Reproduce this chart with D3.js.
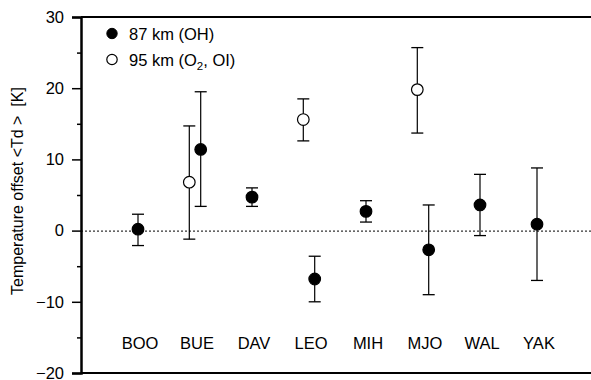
<!DOCTYPE html>
<html>
<head>
<meta charset="utf-8">
<script src="https://cdn.jsdelivr.net/npm/d3@7"></script>
<style>
  body { margin: 0; background: #fff; }
  svg text { font-family: "Liberation Sans", Arial, sans-serif; fill: #000; }
</style>
</head>
<body>
<script>
// stations along the x axis
var stations = ["BOO", "BUE", "DAV", "LEO", "MIH", "MJO", "WAL", "YAK"];

// 87 km (OH), filled circles
var ohValue = [0.2, 11.4, 4.7, -6.8, 2.7, -2.7, 3.6, 0.9];
var ohHigh  = [2.3, 19.5, 6.0, -3.6, 4.2, 3.6, 7.9, 8.8];
var ohLow   = [-2.1, 3.4, 3.4, -10.0, 1.2, -9.0, -0.7, -7.0];

// 95 km (O2, OI), open circles
var o2Stations = ["BUE", "LEO", "MJO"];
var o2Value = [6.8, 15.6, 19.8];
var o2High  = [14.7, 18.5, 25.7];
var o2Low   = [-1.2, 12.6, 13.7];

var majorTicks = [-20, -10, 0, 10, 20, 30];
var minorTicks = [-15, -5, 5, 15, 25];

var width = 591, height = 380;
var fs = 16.5;

var svg = d3.select("body").append("svg")
    .attr("width", width)
    .attr("height", height);

var x = d3.scaleLinear().domain([0, 9]).range([81, 594]);
var y = d3.scaleLinear().domain([-20, 30]).range([373, 17]);

// stations with both series get pulled apart a bit
function xPos(name, series) {
    var i = stations.indexOf(name) + 1;
    if (o2Stations.indexOf(name) < 0) return x(i);
    return x(i + (series === "o2" ? -0.1 : 0.1));
}

// zero line
svg.append("line")
    .attr("x1", x(0)).attr("x2", width)
    .attr("y1", y(0) + 0.5).attr("y2", y(0) + 0.5)
    .attr("stroke", "#000")
    .attr("stroke-width", 1)
    .attr("stroke-dasharray", "2,2");

// frame top & bottom
svg.append("line")
    .attr("x1", x(0)).attr("x2", width)
    .attr("y1", y(30)).attr("y2", y(30))
    .attr("stroke", "#000").attr("stroke-width", 2);
svg.append("line")
    .attr("x1", x(0)).attr("x2", width)
    .attr("y1", y(-20)).attr("y2", y(-20))
    .attr("stroke", "#000").attr("stroke-width", 2);

// left axis
var yAxis = svg.append("g")
    .attr("transform", "translate(" + x(0) + ",0)")
    .call(d3.axisLeft(y).tickValues(majorTicks).tickSize(9).tickPadding(8));
yAxis.select(".domain").attr("stroke-width", 2.5);
yAxis.selectAll(".tick line").attr("stroke-width", 1.5);
yAxis.selectAll("text")
    .attr("font-family", "Liberation Sans, Arial, sans-serif")
    .attr("font-size", fs);

svg.append("g")
    .attr("transform", "translate(" + x(0) + ",0)")
    .call(d3.axisLeft(y).tickValues(minorTicks).tickSize(4).tickFormat(""))
    .call(function(g) { g.select(".domain").remove(); })
    .selectAll(".tick line").attr("stroke-width", 1.5);

// y label
svg.append("text")
    .attr("transform", "translate(23,191) rotate(-90)")
    .attr("text-anchor", "middle")
    .attr("font-size", 16)
    .style("white-space", "pre")
    .text("Temperature offset <Td >  [K]");

// station labels
svg.append("g").selectAll("text")
    .data(stations)
    .enter().append("text")
      .attr("x", function(d, i) { return x(i + 1) + 2; })
      .attr("y", y(-16.6))
      .attr("text-anchor", "middle")
      .attr("font-size", fs)
      .text(function(d) { return d; });

// error bars + points
function drawSeries(names, vals, hi, lo, series, filled, r) {
    var g = svg.append("g");
    var capW = 6;
    names.forEach(function(name, i) {
        var cx = xPos(name, series);
        g.append("line")
            .attr("x1", cx).attr("x2", cx)
            .attr("y1", y(hi[i])).attr("y2", y(lo[i]))
            .attr("stroke", "#000").attr("stroke-width", 1.2);
        [hi[i], lo[i]].forEach(function(v) {
            g.append("line")
                .attr("x1", cx - capW).attr("x2", cx + capW)
                .attr("y1", y(v)).attr("y2", y(v))
                .attr("stroke", "#000").attr("stroke-width", 1.3);
        });
        g.append("circle")
            .attr("cx", cx).attr("cy", y(vals[i]))
            .attr("r", r)
            .attr("fill", filled ? "#000" : "#fff")
            .attr("stroke", "#000")
            .attr("stroke-width", 1.2);
    });
}

drawSeries(stations, ohValue, ohHigh, ohLow, "oh", true, 5.8);
drawSeries(o2Stations, o2Value, o2High, o2Low, "o2", false, 5.8);

// legend
var legend = svg.append("g");
legend.append("circle")
    .attr("cx", 112).attr("cy", 33.5).attr("r", 5.2)
    .attr("fill", "#000").attr("stroke", "#000");
legend.append("text")
    .attr("x", 129).attr("y", 39.5)
    .attr("font-size", fs)
    .text("87 km (OH)");
legend.append("circle")
    .attr("cx", 112).attr("cy", 59.5).attr("r", 5.2)
    .attr("fill", "#fff").attr("stroke", "#000").attr("stroke-width", 1.2);
var t2 = legend.append("text")
    .attr("x", 129).attr("y", 65.5)
    .attr("font-size", fs);
t2.append("tspan").text("95 km (O");
t2.append("tspan").attr("font-size", 11.5).attr("dy", 4).text("2");
t2.append("tspan").attr("dy", -4).text(", OI)");
</script>
</body>
</html>
